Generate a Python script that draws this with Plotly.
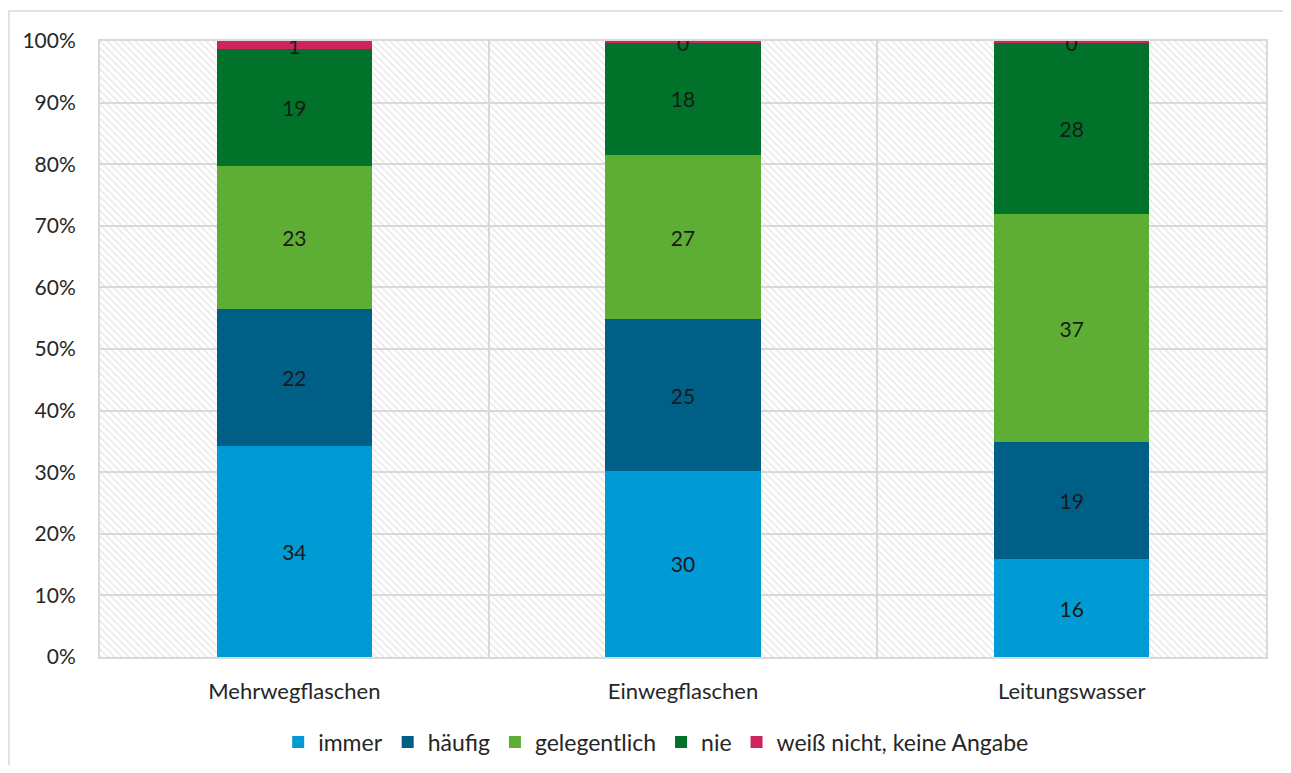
import plotly.graph_objects as go

categories = ["Mehrwegflaschen", "Einwegflaschen", "Leitungswasser"]
series_names = ["immer", "häufig", "gelegentlich", "nie", "weiß nicht, keine Angabe"]
immer = [34.25, 30.2, 15.9]
haeufig = [22.25, 24.6, 19.0]
gelegentlich = [23.2, 26.7, 37.0]
nie = [19.0, 18.2, 27.8]
weiss_nicht = [1.3, 0.3, 0.3]
y_ticks = [0, 10, 20, 30, 40, 50, 60, 70, 80, 90, 100]
y_ticktext = [f"{v}%" for v in y_ticks]

colors = ["#009bd5", "#005f87", "#5eae35", "#007229", "#d0245e"]
values = [immer, haeufig, gelegentlich, nie, weiss_nicht]

FONT = "Lato"
TXT = "#262626"
GRID = "#d9d9d9"

# page offset of 8px (body margin)
W, H = 1275, 757

fig = go.Figure()

# hatched plot-area background
fig.add_trace(go.Bar(
    x=[0.5], y=[100], width=[1], xaxis="x", yaxis="y",
    marker=dict(color="rgba(0,0,0,0)", line=dict(width=0),
                pattern=dict(shape="\\", fgcolor="#d6d6d6", bgcolor="rgba(0,0,0,0)",
                             size=5, solidity=0.35)),
    showlegend=False, hoverinfo="skip",
))

for name, vals, col in zip(series_names, values, colors):
    fig.add_trace(go.Bar(
        name=name, x=categories, y=vals, xaxis="x2", yaxis="y",
        marker=dict(color=col, line=dict(width=0)),
        width=0.4,
        text=[f"{round(v):d}" for v in vals],
        textposition="inside", insidetextanchor="middle", textangle=0,
        constraintext="none",
        textfont=dict(family=FONT, size=21, color="#1a1a1a"),
    ))

fig.update_layout(
    barmode="stack",
    width=W, height=H,
    margin=dict(l=92, r=17, t=33, b=108),
    paper_bgcolor="white", plot_bgcolor="white",
    font=dict(family=FONT, size=21, color=TXT),
    uniformtext=dict(minsize=21, mode="show"),
    xaxis=dict(range=[0, 1], tickvals=[1/3, 2/3], showticklabels=False,
               showgrid=True, gridcolor=GRID, gridwidth=1.5, zeroline=False,
               showline=True, linecolor=GRID, linewidth=2, mirror=True, ticks=""),
    xaxis2=dict(overlaying="x", anchor="y", type="category", range=[-0.5, 2.5],
                showgrid=False, showline=False, zeroline=False, ticks="",
                ticklabelstandoff=19, tickfont=dict(family=FONT, size=22, color=TXT)),
    yaxis=dict(range=[0, 100], tickvals=y_ticks, ticktext=y_ticktext,
               showgrid=True, gridcolor=GRID, gridwidth=1.5, zeroline=False,
               showline=True, linecolor=GRID, linewidth=2, mirror=True, ticks="",
               ticklabelstandoff=18, tickfont=dict(family=FONT, size=21, color=TXT)),
    legend=dict(orientation="h", x=0.477, xanchor="center",
                yref="container", y=1 - 734 / H, yanchor="middle",
                font=dict(family=FONT, size=23, color=TXT), traceorder="normal",
                itemwidth=30),
    showlegend=True,
)

fig.add_shape(type="rect", xref="paper", yref="paper",
              x0=(9 - 100) / 1166, x1=(1300 - 100) / 1166,
              y0=(657 - 790) / 616, y1=(657 - 11) / 616,
              line=dict(color=GRID, width=1.5), fillcolor="rgba(0,0,0,0)", layer="below")

fig.write_html("out.html")
